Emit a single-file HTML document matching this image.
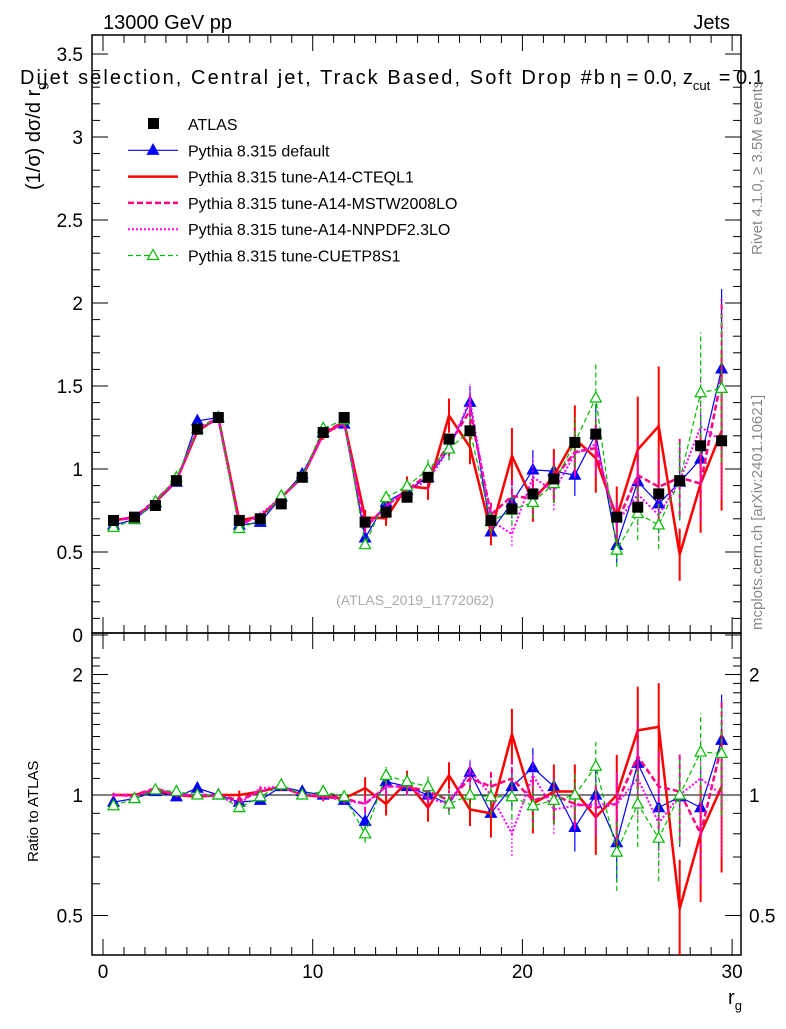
<!DOCTYPE html>
<html><head><meta charset="utf-8"><style>
body{margin:0;background:#fff}
svg{font-family:"Liberation Sans",sans-serif}
</style></head><body>
<svg id="c" width="786" height="1024" xmlns="http://www.w3.org/2000/svg">
<text x="103" y="29" font-size="20">13000 GeV pp</text>
<text x="730" y="29" font-size="20" text-anchor="end">Jets</text>
<text x="20" y="84" font-size="20" textLength="585" lengthAdjust="spacing">Dijet selection, Central jet, Track Based, Soft Drop #b</text>
<text x="610" y="84" font-size="20">η = 0.0, z<tspan font-size="13" dy="6">cut</tspan><tspan dy="-6" dx="3"> = 0.1</tspan></text>
<text transform="translate(40,190) rotate(-90)" font-size="20">(1/σ) dσ/d r<tspan font-size="13" dy="6">g</tspan></text>
<text transform="translate(762,255) rotate(-90)" font-size="15" fill="#888">Rivet 4.1.0, ≥ 3.5M events</text>
<text transform="translate(762,630) rotate(-90)" font-size="15" fill="#888">mcplots.cern.ch [arXiv:2401.10621]</text>
<text x="415" y="605" font-size="14" fill="#aaa" text-anchor="middle">(ATLAS_2019_I1772062)</text>
<text transform="translate(38,862) rotate(-90)" font-size="15">Ratio to ATLAS</text>
<text x="735" y="1004" font-size="20" text-anchor="middle">r<tspan font-size="13" dy="6">g</tspan></text>
<g id="g"></g>
</svg>
<script>
const bins=[0.5,1.5,2.5,3.5,4.5,5.5,6.5,7.5,8.5,9.5,10.5,11.5,12.5,13.5,14.5,15.5,16.5,17.5,18.5,19.5,20.5,21.5,22.5,23.5,24.5,25.5,26.5,27.5,28.5,29.5];
const atlas=[0.69,0.71,0.78,0.93,1.24,1.31,0.69,0.70,0.79,0.95,1.22,1.31,0.68,0.74,0.83,0.95,1.18,1.23,0.69,0.76,0.85,0.94,1.16,1.21,0.71,0.77,0.85,0.93,1.14,1.17];
const rDefault=[0.96,0.98,1.02,0.99,1.04,1.0,0.96,0.97,1.05,1.02,1.0,0.97,0.86,1.08,1.05,1.0,0.95,1.14,0.9,1.05,1.17,1.05,0.83,1.0,0.76,1.2,0.93,0.99,0.93,1.37];
const rCteq=[1.0,1.0,1.03,1.0,0.99,1.0,1.0,1.02,1.05,1.0,0.99,0.98,1.04,0.95,1.08,0.93,1.12,0.92,0.9,1.42,0.95,1.02,1.02,0.88,1.0,1.45,1.48,0.52,0.8,1.05];
const rMstw=[1.0,1.0,1.04,1.0,1.0,1.0,0.97,1.02,1.05,1.0,1.0,0.98,0.95,1.05,1.05,1.02,0.97,1.1,1.05,1.1,0.97,1.0,0.95,0.93,0.95,1.25,1.05,1.02,0.8,1.33];
const rNnpdf=[1.0,0.99,1.04,1.0,1.0,0.99,0.95,1.04,1.05,1.0,0.99,0.97,0.95,1.05,1.05,0.98,0.95,1.15,1.0,0.8,1.12,0.92,0.94,0.95,0.95,1.1,0.85,1.0,1.1,1.0];
const rCuetp=[0.94,0.98,1.03,1.02,1.0,1.0,0.93,0.99,1.06,1.0,1.02,0.99,0.8,1.12,1.08,1.05,0.95,1.0,0.99,0.99,0.94,0.97,1.0,1.18,0.72,0.95,0.78,1.0,1.28,1.27];
const relErr=[0.01,0.01,0.01,0.01,0.01,0.01,0.02,0.02,0.02,0.02,0.02,0.02,0.05,0.05,0.05,0.06,0.06,0.07,0.1,0.12,0.12,0.13,0.13,0.15,0.2,0.22,0.22,0.25,0.25,0.3];
const mainTicks=["0","0.5","1","1.5","2","2.5","3","3.5"];
const ratioTicks=["0.5","1","2"];
const xTicks=["0","10","20","30"];
const NS="http://www.w3.org/2000/svg",G=document.getElementById('g');
const X0=92,X1=741,MT=35,MB=633,RB=955;
const sx=v=>103+v*20.97;
const sy=v=>635-v*166;
const sr=v=>795-Math.log2(v)*120.5;
function el(t,a,p){const e=document.createElementNS(NS,t);for(const k in a)e.setAttribute(k,a[k]);(p||G).appendChild(e);return e;}
const defs=el('defs',{});
const c1=el('clipPath',{id:'cm'},defs);el('rect',{x:X0,y:MT,width:X1-X0,height:MB-MT},c1);
const c2=el('clipPath',{id:'cr'},defs);el('rect',{x:X0,y:MB,width:X1-X0,height:RB-MB},c2);
let f=el('rect',{x:X0,y:MT,width:X1-X0,height:MB-MT,fill:'none',stroke:'#000','stroke-width':1.5});

f=el('rect',{x:X0,y:MB,width:X1-X0,height:RB-MB,fill:'none',stroke:'#000','stroke-width':1.5});

let ln=el('line',{x1:X0,x2:X1,y1:sr(1),y2:sr(1),stroke:'#000'});

for(let v=0;v<=30;v++){const x=sx(v),L=v%10==0?16:8;
 el('line',{x1:x,x2:x,y1:MB,y2:MB-L,stroke:'#000'});el('line',{x1:x,x2:x,y1:MT,y2:MT+L,stroke:'#000'});
 el('line',{x1:x,x2:x,y1:RB,y2:RB-L,stroke:'#000'});el('line',{x1:x,x2:x,y1:MB,y2:MB+L,stroke:'#000'});}
xTicks.forEach(t=>{const e=el('text',{x:sx(+t),y:978,'font-size':19,'text-anchor':'middle'});e.textContent=t;
 });
for(let v=0;v<=3.6;v+=0.1){const y=sy(v);if(y<MT)break;const maj=Math.abs(v*2-Math.round(v*2))<1e-6,L=maj?16:8;
 el('line',{x1:X0,x2:X0+L,y1:y,y2:y,stroke:'#000'});el('line',{x1:X1,x2:X1-L,y1:y,y2:y,stroke:'#000'});}
mainTicks.forEach(t=>{const e=el('text',{x:83,y:sy(+t)+7,'font-size':19,'text-anchor':'end'});e.textContent=t;
 });
[0.6,0.7,0.8,0.9,1.1,1.2,1.3,1.4,1.5,1.6,1.7,1.8,1.9,2.1,2.2].forEach(v=>{const y=sr(v);
 el('line',{x1:X0,x2:X0+8,y1:y,y2:y,stroke:'#000'});el('line',{x1:X1,x2:X1-8,y1:y,y2:y,stroke:'#000'});});
ratioTicks.forEach(t=>{const y=sr(+t);
 el('line',{x1:X0,x2:X0+16,y1:y,y2:y,stroke:'#000'});el('line',{x1:X1,x2:X1-16,y1:y,y2:y,stroke:'#000'});
 let e=el('text',{x:83,y:y+7,'font-size':19,'text-anchor':'end'});e.textContent=t;
 
 e=el('text',{x:749,y:y+7,'font-size':19});e.textContent=t;
 });
const series=[
 {r:rDefault,c:'#0000ff',w:1.2,d:'',m:'tri',n:'pythia-default',ef:1},
 {r:rCteq,c:'#ff0000',w:2.5,d:'',m:'',n:'pythia-a14-cteql1',ef:1.3},
 {r:rMstw,c:'#ff0080',w:2.5,d:'6,3',m:'',n:'pythia-a14-mstw2008lo',ef:1},
 {r:rNnpdf,c:'#ff00ff',w:2,d:'2,2',m:'',n:'pythia-a14-nnpdf23lo',ef:1},
 {r:rCuetp,c:'#00bb00',w:1.2,d:'5,3',m:'otri',n:'pythia-cuetp8s1',ef:1}];
function tri(g,x,y,c,open){el('polygon',{points:`${x},${y-6} ${x-5.5},${y+4} ${x+5.5},${y+4}`,fill:open?'#fff':c,stroke:c,'stroke-width':1.2},g);}
series.forEach(s=>{
 [['main','cm'],['ratio','cr']].forEach(([pn,cl])=>{
  const g=el('g',{'clip-path':`url(#${cl})`});
  
  const val=i=>pn=='main'?s.r[i]*atlas[i]:s.r[i];
  const Y=v=>pn=='main'?sy(v):sr(Math.max(v,0.01));
  let pts=bins.map((b,i)=>sx(b)+','+Y(val(i))).join(' ');
  el('polyline',{points:pts,fill:'none',stroke:s.c,'stroke-width':s.w,'stroke-dasharray':s.d},g);
  bins.forEach((b,i)=>{const v=val(i),e=relErr[i]*s.ef*v;
   el('line',{x1:sx(b),x2:sx(b),y1:Y(v-e),y2:Y(v+e),stroke:s.c,'stroke-width':s.w>2?2:1.2,'stroke-dasharray':s.d},g);
   if(s.m)tri(g,sx(b),Y(v),s.c,s.m=='otri');});
 });
});
const ag=el('g',{});
bins.forEach((b,i)=>{const y=sy(atlas[i]);
 el('line',{x1:sx(b),x2:sx(b),y1:sy(atlas[i]*1.02),y2:sy(atlas[i]*0.98),stroke:'#000'},ag);
 el('rect',{x:sx(b)-5.5,y:y-5.5,width:11,height:11,fill:'#000'},ag);});
const leg=[['ATLAS',null],['Pythia 8.315 default',0],['Pythia 8.315 tune-A14-CTEQL1',1],['Pythia 8.315 tune-A14-MSTW2008LO',2],['Pythia 8.315 tune-A14-NNPDF2.3LO',3],['Pythia 8.315 tune-CUETP8S1',4]];
leg.forEach((L,k)=>{const y=124+k*26.3;const g=el('g',{});
 
 if(L[1]===null){el('rect',{x:148,y:y-6,width:11,height:11,fill:'#000'},g);}
 else{const s=series[L[1]];el('line',{x1:128,x2:178,y1:y,y2:y,stroke:s.c,'stroke-width':s.w,'stroke-dasharray':s.d},g);
  if(s.m)tri(g,153,y,s.c,s.m=='otri');}
 const t=el('text',{x:188,y:y+6,'font-size':16},g);t.textContent=L[0];});
</script>
</body></html>
